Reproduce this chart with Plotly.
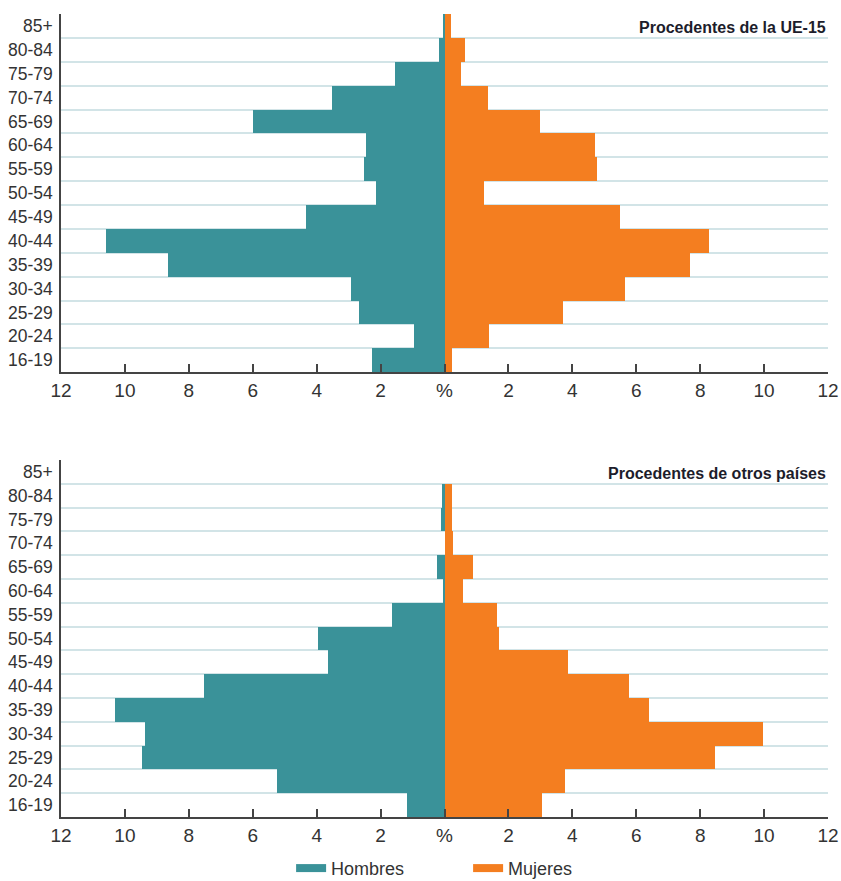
import plotly.graph_objects as go

# Grupos de edad (de abajo arriba)
edades = ["16-19", "20-24", "25-29", "30-34", "35-39", "40-44", "45-49",
          "50-54", "55-59", "60-64", "65-69", "70-74", "75-79", "80-84", "85+"]

# Procedentes de la UE-15 (%)
ue15_hombres = [2.28, 0.94, 2.67, 2.92, 8.66, 10.59, 4.34,
                2.13, 2.52, 2.45, 5.99, 3.52, 1.56, 0.18, 0.04]
ue15_mujeres = [0.22, 1.38, 3.70, 5.65, 7.68, 8.27, 5.50,
                1.25, 4.77, 4.71, 2.98, 1.35, 0.53, 0.64, 0.19]

# Procedentes de otros países (%)
otros_hombres = [1.16, 5.25, 9.48, 9.38, 10.31, 7.53, 3.63,
                 3.97, 1.65, 0.06, 0.22, 0.0, 0.12, 0.08, 0.0]
otros_mujeres = [3.04, 3.78, 8.47, 9.97, 6.41, 5.76, 3.85,
                 1.72, 1.65, 0.59, 0.90, 0.27, 0.25, 0.22, 0.0]

x_ticks = [-12, -10, -8, -6, -4, -2, 0, 2, 4, 6, 8, 10, 12]
x_ticktext = ["12", "10", "8", "6", "4", "2", "%", "2", "4", "6", "8", "10", "12"]

COLOR_H = "#3a9299"
COLOR_M = "#f47e20"
GRID = "#d2e4e7"
AXIS = "#444444"
FONT = "Liberation Sans"

y_pos = list(range(len(edades)))

fig = go.Figure()

paneles = [
    (ue15_hombres, ue15_mujeres, "x", "y", "Procedentes de la UE-15"),
    (otros_hombres, otros_mujeres, "x2", "y2", "Procedentes de otros países"),
]

for hombres, mujeres, xa, ya, titulo in paneles:
    fig.add_trace(go.Bar(
        y=y_pos, x=[-v for v in hombres], orientation="h",
        marker=dict(color=COLOR_H, line_width=0), width=1,
        showlegend=False, xaxis=xa, yaxis=ya, name="Hombres",
    ))
    fig.add_trace(go.Bar(
        y=y_pos, x=mujeres, orientation="h",
        marker=dict(color=COLOR_M, line_width=0), width=1,
        showlegend=False, xaxis=xa, yaxis=ya, name="Mujeres",
    ))
    fig.add_annotation(
        x=12, y=len(edades) - 1, xref=xa, yref=ya, yshift=-2,
        text=f"<b>{titulo}</b>", showarrow=False, xanchor="right",
        font=dict(size=16, color="#1d1d2b", family=FONT),
    )

# leyenda
for nombre, color in [("Hombres", COLOR_H), ("Mujeres", COLOR_M)]:
    fig.add_trace(go.Scatter(
        x=[None], y=[None], mode="lines", name=nombre,
        line=dict(color=color, width=8), xaxis="x", yaxis="y",
    ))

xaxis_cfg = dict(
    range=[-12, 12], tickvals=x_ticks, ticktext=x_ticktext,
    ticks="inside", ticklen=8, tickwidth=1.5, tickcolor=AXIS,
    showline=True, linecolor=AXIS, linewidth=1.5,
    showgrid=False, zeroline=False, automargin=False,
    ticklabeloverflow="allow",
    tickfont=dict(size=19, color="#333333", family=FONT),
)
yaxis_cfg = dict(
    range=[-0.5, len(edades) - 0.5], tickvals=y_pos, ticktext=edades,
    ticks="", showline=True, linecolor=AXIS, linewidth=1.5,
    showgrid=False, zeroline=False, automargin=False,
    ticklabelstandoff=3,
    minor=dict(tick0=-0.5, dtick=1, showgrid=True, gridcolor=GRID, gridwidth=1.5, ticks=""),
    tickfont=dict(size=17.5, color="#333333", family=FONT),
)

fig.update_layout(
    width=841, height=881,
    margin=dict(l=61, r=13, t=14, b=64, autoexpand=False),
    barmode="relative", bargap=0,
    plot_bgcolor="white", paper_bgcolor="white",
    font=dict(family=FONT, color="#333333"),
    xaxis=dict(**xaxis_cfg, anchor="y"),
    yaxis=dict(**yaxis_cfg, domain=[0.554, 1], anchor="x"),
    xaxis2=dict(**xaxis_cfg, anchor="y2"),
    yaxis2=dict(**yaxis_cfg, domain=[0, 0.4446], anchor="x2"),
    showlegend=True,
    legend=dict(
        orientation="h", x=0.3, xanchor="left", y=-0.064, yanchor="middle",
        entrywidth=132, entrywidthmode="pixels",
        font=dict(size=18, color="#333333", family=FONT),
    ),
)

# sin margen en el <body> para que la figura ocupe la ventana entera
fig.write_html(
    "out.html",
    config={"displayModeBar": False},
    post_script="document.body.style.margin='0';",
)
